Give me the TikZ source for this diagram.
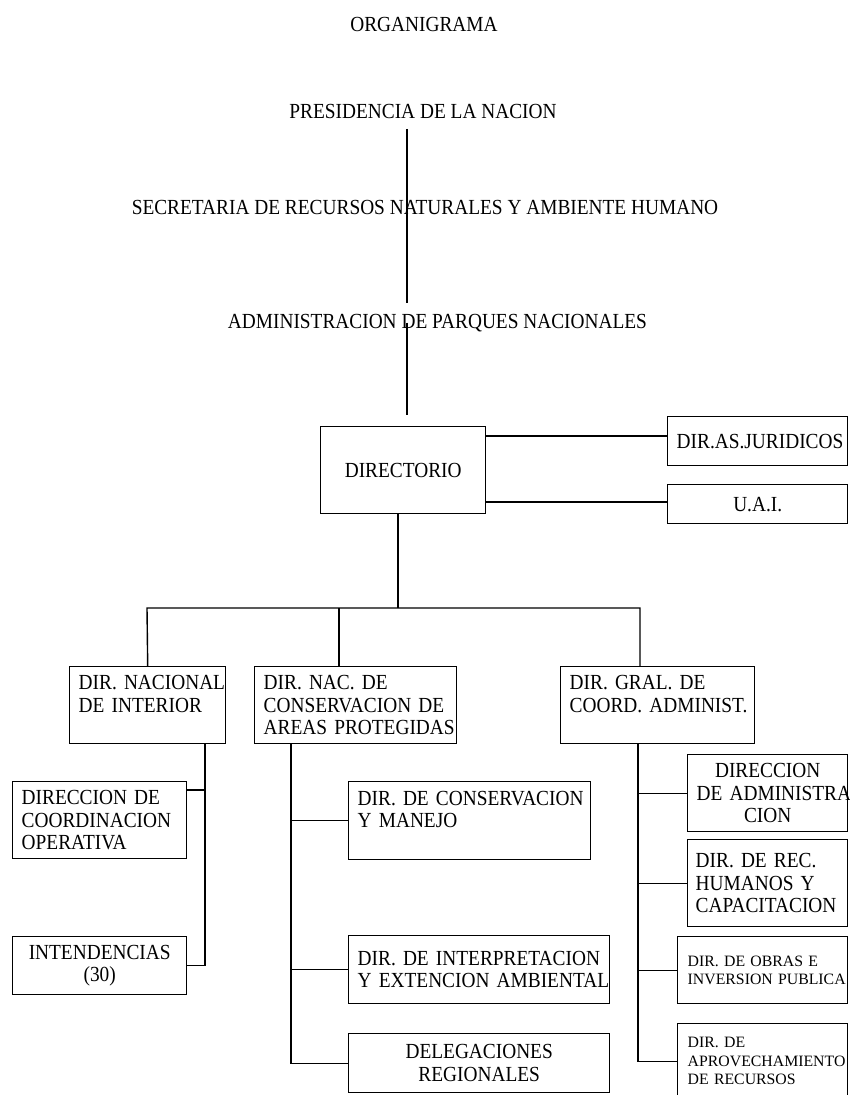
\documentclass[tikz,border=0pt]{standalone}
\usepackage{fontspec}
\setmainfont{Liberation Serif}[FakeStretch=0.9]
\newfontfamily\obrasfamily{Liberation Serif}
\newcommand\orgfont{\fontsize{21.5}{22.5}\selectfont\hyphenpenalty=10000 }
\newcommand\smallorgfont{\obrasfamily\fontsize{15.8}{18.5}\selectfont\hyphenpenalty=10000 }

\begin{document}
\begin{tikzpicture}[x=1pt, y=-1pt, line width=1.4pt,
    heading/.style={anchor=base, inner ysep=10pt, font=\orgfont},
    unit/.style={draw, anchor=north west, inner xsep=9pt, inner ysep=0pt, align=left, font=\orgfont},
    smallunit/.style={unit, inner xsep=10pt, font=\smallorgfont}]
        \useasboundingbox (0,0) rectangle (849,1095);

        % Headings
        \node[heading] (title) at (424,31) {ORGANIGRAMA};
        \node[heading] (pres) at (423,118) {PRESIDENCIA DE LA NACION};
        \node[heading] (secr) at (425,214) {SECRETARIA DE RECURSOS NATURALES Y AMBIENTE HUMANO};
        \node[heading] (admin) at (437.5,328) {ADMINISTRACION DE PARQUES NACIONALES};
        \coordinate (axis) at (407,0);

        % Directorio
        \node[unit, align=center, minimum width=165pt, minimum height=87pt, text width=147pt] (dir) at (320,426) {DIRECTORIO};
        \node[unit, align=center, minimum width=180pt, minimum height=49pt, text width=162pt] (jur) at (667,416) {DIR.AS.JURIDICOS};
        \node[unit, align=center, minimum width=180pt, minimum height=39pt, text width=162pt] (uai) at (667,484) {U.A.I.};

        % Direcciones
        \node[unit, minimum width=156pt, minimum height=77pt, text width=138pt] (nac) at (69,666) {\mbox{DIR. NACIONAL}\\DE INTERIOR\\~};
        \node[unit, minimum width=202pt, minimum height=77pt, text width=184pt] (cons) at (254,666) {DIR. NAC. DE\\\mbox{CONSERVACION DE}\\\mbox{AREAS PROTEGIDAS}};
        \node[unit, minimum width=194pt, minimum height=77pt, text width=176pt] (gral) at (560,666) {DIR. GRAL. DE\\\mbox{COORD. ADMINIST.}\\~};

        % Interior
        \node[unit, minimum width=174pt, minimum height=77pt, text width=156pt] (coord) at (12,781) {DIRECCION DE\\COORDINACION\\OPERATIVA};
        \node[unit, align=center, minimum width=174pt, minimum height=58pt, text width=156pt] (intend) at (12,936) {INTENDENCIAS\\(30)};

        % Conservacion
        \node[unit, minimum width=242pt, minimum height=78pt, text width=224pt] (cman) at (348,781) {\mbox{DIR. DE CONSERVACION}\\Y MANEJO\\~};
        \node[unit, minimum width=261pt, minimum height=68pt, text width=243pt] (interp) at (348,935) {\mbox{DIR. DE INTERPRETACION}\\\mbox{Y EXTENCION AMBIENTAL}};
        \node[unit, align=center, minimum width=261pt, minimum height=59pt, text width=243pt] (deleg) at (348,1033) {DELEGACIONES\\REGIONALES};

        % Coordinacion administrativa
        \node[unit, align=center, minimum width=160pt, minimum height=77pt, text width=142pt] (adm) at (687,754) {DIRECCION\\\mbox{DE ADMINISTRA}\\CION};
        \node[unit, inner xsep=8pt, minimum width=160pt, minimum height=87pt, text width=144pt] (rec) at (687,839) {DIR. DE REC.\\HUMANOS Y\\CAPACITACION};
        \node[smallunit, minimum width=170pt, minimum height=67pt, text width=150pt] (obras) at (677,936) {DIR. DE OBRAS E\\\mbox{INVERSION PUBLICA}};
        \node[smallunit, minimum width=170pt, minimum height=75pt, text width=150pt] (aprov) at (677,1023) {DIR. DE\\APROVECHAMIENTO\\DE RECURSOS};

        % Edges
        \draw (pres.south -| axis) -- (admin.north -| axis);
        \draw[shorten >=11pt] (admin.center -| axis) -- (dir.north -| axis);
        \coordinate (jl) at (485,436);
        \coordinate (ul) at (485,502);
        \draw (jl) -- (jl -| jur.west);
        \draw (ul) -- (ul -| uai.west);

        \coordinate (bar) at (398,608);
        \coordinate (bl) at (147,608);
        \coordinate (bc) at (339,608);
        \coordinate (br) at (640,608);
        \draw (dir.south -| bar) -- (bar);
        \draw (nac.north) -- (bl) -- (br) -- (br |- gral.north);
        \draw (bc) -- (bc |- cons.north);

        \coordinate (nb) at (205,743);
        \coordinate (nc) at (205,790);
        \draw (nb) |- (intend.east);
        \draw (nc) -- (nc -| coord.east);

        \coordinate (cb) at (291,743);
        \draw (cb) |- (deleg.west);
        \foreach \n in {cman, interp}
            \draw (cb |- \n.west) -- (\n.west);

        \coordinate (gb) at (638,743);
        \draw (gb) |- (aprov.west);
        \foreach \n in {adm, rec, obras}
            \draw (gb |- \n.west) -- (\n.west);
    \end{tikzpicture}
\end{document}
